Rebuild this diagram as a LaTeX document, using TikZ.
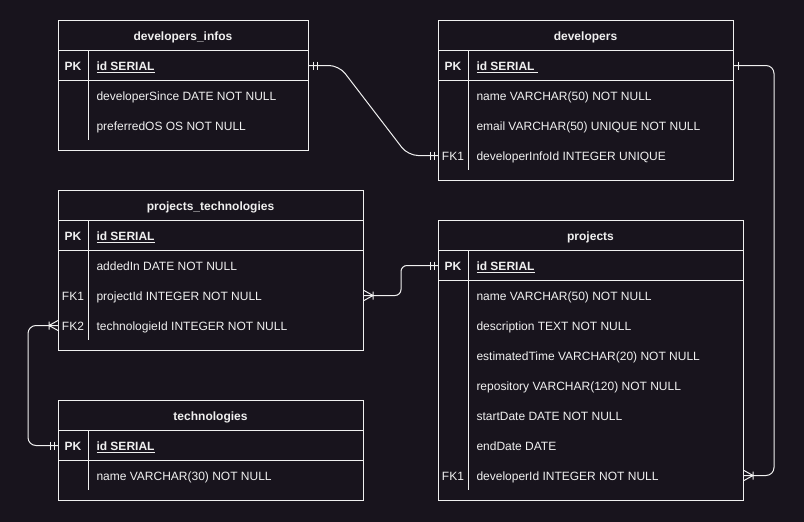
\documentclass[tikz,border=0pt]{standalone}
\usepackage{fontspec}
\setmainfont{Liberation Sans}
\usetikzlibrary{calc}
\definecolor{bg}{HTML}{18141D}
\definecolor{fg}{HTML}{F0F0F0}
\newcommand{\ufont}{\fontsize{12}{14}\selectfont}
\newcommand{\fieldrow}[6]{%
  \node[rowbox, minimum width=#4pt] (#1) at (#2,#3) {};
  \node[keytxt] (#1-k) at ($(#1.west)+(15,0.8)$) {#5};
  \node[fieldtxt] (#1-t) at ($(#1.west)+(38,0.8)$) {#6};
}
\newcommand{\mkmandone}[2]{\draw[mk, shift={#1}, xscale=#2] (4,-4)--(4,4) (8,-4)--(8,4);}
\newcommand{\mkone}[2]{\draw[mk, shift={#1}, xscale=#2] (4,-4)--(4,4);}
\newcommand{\mkmany}[2]{\draw[mk, shift={#1}, xscale=#2] (0,-5)--(9,0)--(0,5) (9,-4)--(9,4);}
\begin{document}
\begin{tikzpicture}[x=1pt,y=-1pt,line width=1pt,
  every node/.style={font=\ufont, text=fg, inner sep=0pt, text height=8.6pt, text depth=0pt},
  tbl/.style={draw=fg, line width=1pt, anchor=north west},
  sep/.style={draw=fg, line width=1pt},
  rowbox/.style={anchor=north west, minimum height=30pt},
  title/.style={font=\ufont\bfseries},
  keytxt/.style={anchor=center},
  fieldtxt/.style={anchor=west},
  conn/.style={draw=fg, line width=1pt, rounded corners=8pt},
  mk/.style={draw=fg, line width=1pt}
]
\fill[bg] (0,0) rectangle (804,522);
\useasboundingbox (0,0) rectangle (804,522);

% developers_infos
\node[tbl, minimum width=250pt, minimum height=130pt] (di) at (58,20) {};
\node[title] (di-h) at (183,35.8) {developers\_infos};
\draw[sep] (58,50) -- (308,50) (58,80) -- (308,80) (88,50) -- (88,140);
\fieldrow{di-id}{58}{50}{250}{\textbf{PK}}{\textbf{\underline{id SERIAL}}}
\fieldrow{di-r1}{58}{80}{250}{}{developerSince DATE NOT NULL}
\fieldrow{di-r2}{58}{110}{250}{}{preferredOS OS NOT NULL}

% developers
\node[tbl, minimum width=295pt, minimum height=160pt] (dv) at (438,20) {};
\node[title] (dv-h) at (585.5,35.8) {developers};
\draw[sep] (438,50) -- (733,50) (438,80) -- (733,80) (468,50) -- (468,170);
\fieldrow{dv-id}{438}{50}{295}{\textbf{PK}}{\textbf{\underline{id SERIAL\ }}}
\fieldrow{dv-r1}{438}{80}{295}{}{name VARCHAR(50) NOT NULL}
\fieldrow{dv-r2}{438}{110}{295}{}{email VARCHAR(50) UNIQUE NOT NULL}
\fieldrow{dv-fk}{438}{140}{295}{FK1}{developerInfoId INTEGER UNIQUE}

% projects_technologies
\node[tbl, minimum width=305pt, minimum height=160pt] (pt) at (58,190) {};
\node[title] (pt-h) at (210.5,205.8) {projects\_technologies};
\draw[sep] (58,220) -- (363,220) (58,250) -- (363,250) (88,220) -- (88,340);
\fieldrow{pt-id}{58}{220}{305}{\textbf{PK}}{\textbf{\underline{id SERIAL}}}
\fieldrow{pt-r1}{58}{250}{305}{}{addedIn DATE NOT NULL}
\fieldrow{pt-fk1}{58}{280}{305}{FK1}{projectId INTEGER NOT NULL}
\fieldrow{pt-fk2}{58}{310}{305}{FK2}{technologieId INTEGER NOT NULL}

% projects
\node[tbl, minimum width=305pt, minimum height=280pt] (pj) at (438,220) {};
\node[title] (pj-h) at (590.5,235.8) {projects};
\draw[sep] (438,250) -- (743,250) (438,280) -- (743,280) (468,250) -- (468,490);
\fieldrow{pj-id}{438}{250}{305}{\textbf{PK}}{\textbf{\underline{id SERIAL}}}
\fieldrow{pj-r1}{438}{280}{305}{}{name VARCHAR(50) NOT NULL}
\fieldrow{pj-r2}{438}{310}{305}{}{description TEXT NOT NULL}
\fieldrow{pj-r3}{438}{340}{305}{}{estimatedTime VARCHAR(20) NOT NULL}
\fieldrow{pj-r4}{438}{370}{305}{}{repository VARCHAR(120) NOT NULL}
\fieldrow{pj-r5}{438}{400}{305}{}{startDate DATE NOT NULL}
\fieldrow{pj-r6}{438}{430}{305}{}{endDate DATE}
\fieldrow{pj-fk}{438}{460}{305}{FK1}{developerId INTEGER NOT NULL}

% technologies
\node[tbl, minimum width=305pt, minimum height=100pt] (tc) at (58,400) {};
\node[title] (tc-h) at (210.5,415.8) {technologies};
\draw[sep] (58,430) -- (363,430) (58,460) -- (363,460) (88,430) -- (88,490);
\fieldrow{tc-id}{58}{430}{305}{\textbf{PK}}{\textbf{\underline{id SERIAL}}}
\fieldrow{tc-r1}{58}{460}{305}{}{name VARCHAR(30) NOT NULL}

% connectors
\draw[conn, rounded corners=10pt] (di-id.east) -- ++(30,0) -- ($(dv-fk.west)+(-30,0)$) -- (dv-fk.west);
\draw[conn] (dv-id.east) -- ++(40,0) |- (pj-fk.east);
\coordinate (m1) at ($(pt-fk1.east)!0.5!(pj-id.west)$);
\draw[conn, rounded corners=6pt] (pt-fk1.east) -- (m1 |- pt-fk1.east) -- (m1 |- pj-id.west) -- (pj-id.west);
\draw[conn] (tc-id.west) -- ++(-30,0) |- (pt-fk2.west);

% markers
\mkmandone{(di-id.east)}{1}
\mkmandone{(dv-fk.west)}{-1}
\mkone{(dv-id.east)}{1}
\mkmany{(pj-fk.east)}{1}
\mkmandone{(pj-id.west)}{-1}
\mkmany{(pt-fk1.east)}{1}
\mkmandone{(tc-id.west)}{-1}
\mkmany{(pt-fk2.west)}{-1}
\end{tikzpicture}
\end{document}
